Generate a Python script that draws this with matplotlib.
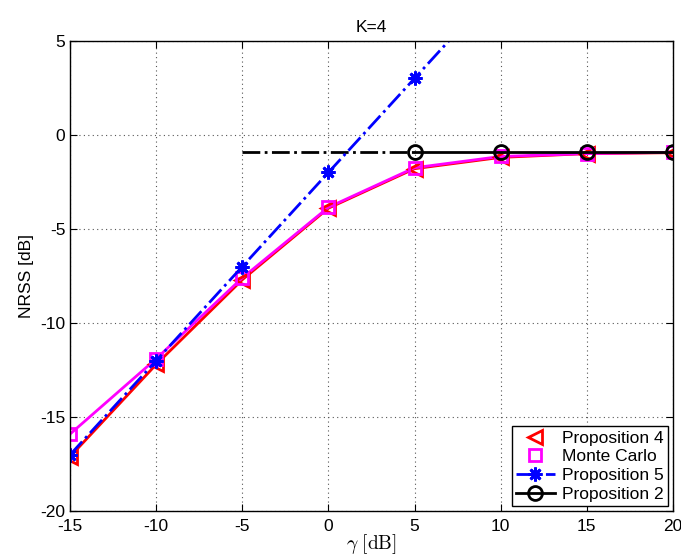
import matplotlib
matplotlib.use("Agg")
import matplotlib.pyplot as plt

plt.rcParams['font.family'] = ['Liberation Sans', 'DejaVu Sans']
plt.rcParams['mathtext.fontset'] = 'cm'
plt.rcParams['axes.unicode_minus'] = False

# data
gamma = [-15, -10, -5, 0, 5, 10, 15, 20]
prop4 = [-17.1, -12.2, -7.7, -3.9, -1.8, -1.2, -1.0, -0.95]
monte_carlo = [-15.9, -11.9, -7.6, -3.85, -1.75, -1.15, -1.0, -0.93]
gamma5 = [-15, -10, -5, 0, 5, 10]
prop5 = [-17.0, -12.0, -7.0, -2.0, 3.0, 8.0]
gamma2 = [5, 10, 15, 20]
prop2 = [-0.93, -0.93, -0.93, -0.93]
gamma2_ext = [-5, 5]
prop2_ext = [-0.93, -0.93]

fig = plt.figure(figsize=(6.81, 5.58), dpi=100)
ax = fig.add_axes([0.103, 0.084, 0.885, 0.843])

# curves
ax.plot(gamma, prop4, color='red', lw=2)
ax.plot(gamma, monte_carlo, color='magenta', lw=2)
ax.plot(gamma2_ext, prop2_ext, color='black', lw=2, ls='-.')

# markers (legend entries)
ax.plot(gamma, prop4, ls='none', marker='<', ms=10, mfc='none', mec='red',
        mew=2, label='Proposition 4')
ax.plot(gamma, monte_carlo, ls='none', marker='s', ms=8, mfc='none', mec='magenta',
        mew=2, label='Monte Carlo')
ax.plot(gamma5, prop5, color='blue', lw=2, ls='-.', marker=(8, 2, 0), ms=10,
        mew=2, label='Proposition 5')
ax.plot(gamma2, prop2, color='black', lw=2, marker='o', ms=10, mfc='none',
        mew=2, label='Proposition 2')

ax.set_xlim(-15, 20)
ax.set_ylim(-20, 5)
ax.set_xticks(range(-15, 21, 5))
ax.set_yticks(range(-20, 6, 5))
ax.grid(True, ls=(0, (1, 3)), color='#555555', lw=0.8)
ax.tick_params(direction='in', labelsize=12.5, top=True, right=True, length=5)
ax.tick_params(axis='x', pad=6)
for s in ax.spines.values():
    s.set_linewidth(1)

ax.set_title('K=4', fontsize=12.5)
ax.set_xlabel(r'$\gamma\ \mathrm{[dB]}$', fontsize=14, labelpad=-2)
ax.set_ylabel('NRSS [dB]', fontsize=12.5)

leg = ax.legend(loc='lower right', fontsize=12.5, fancybox=False, framealpha=1,
                edgecolor='black', borderaxespad=0.3, handlelength=2.2,
                labelspacing=0.2, borderpad=0.25, handletextpad=0.4)
leg.get_frame().set_linewidth(1)

fig.savefig('out.png', dpi=100)
